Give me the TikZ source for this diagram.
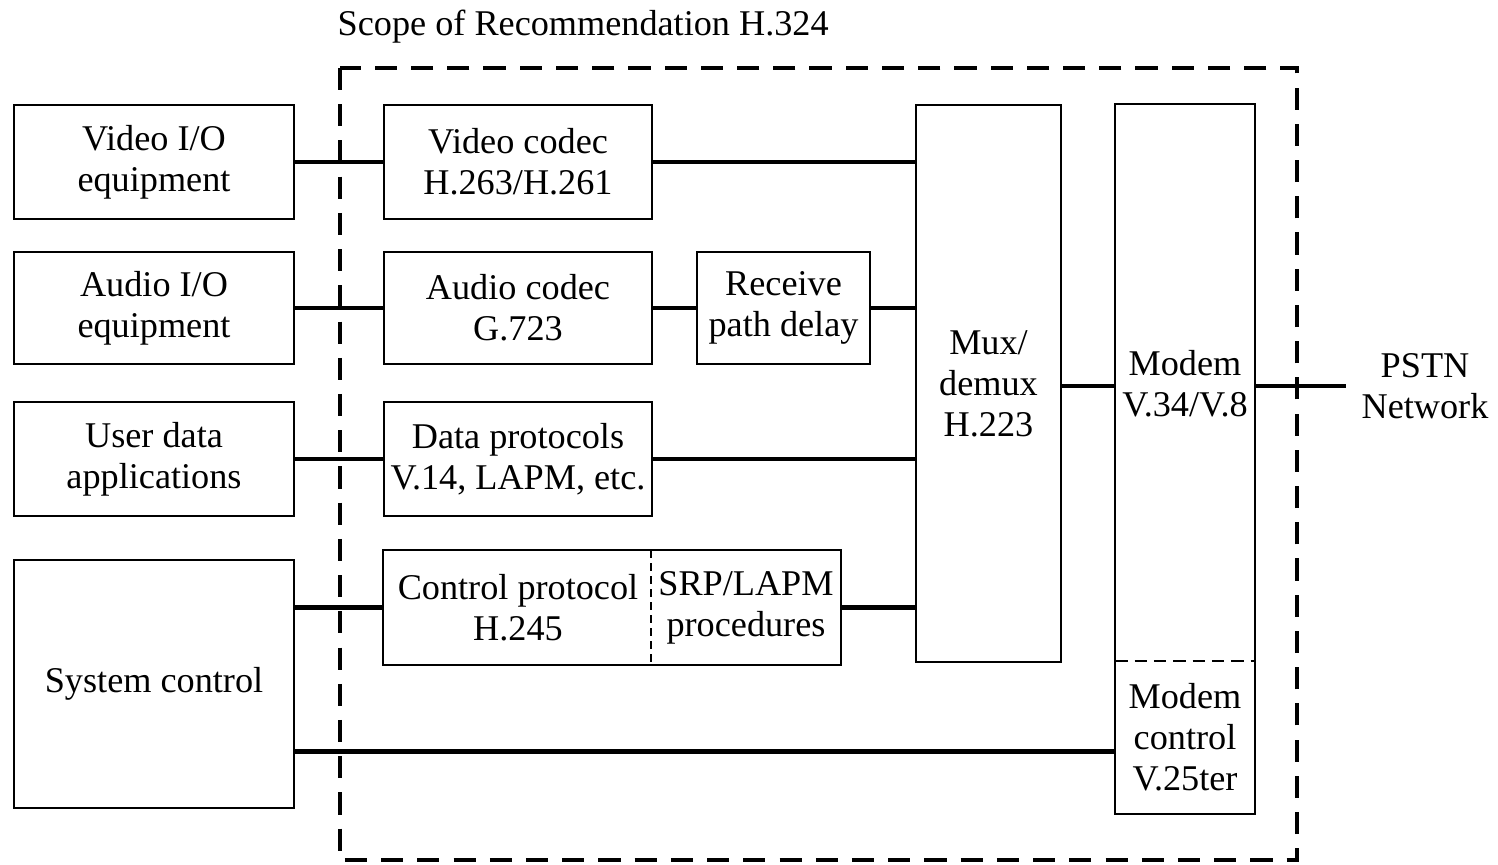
\documentclass[tikz,border=0pt]{standalone}
\usepackage{fontspec}
\setmainfont{Liberation Serif}
\usepackage{tikz}
\usetikzlibrary{arrows,calc,positioning}

\begin{document}
\begin{tikzpicture}[x=0.01cm,y=-0.01cm,
    box/.style={draw,line width=0.55pt,inner sep=0pt,align=center},
    plain/.style={inner sep=0pt,align=center},
    link/.style={line width=1.25pt},
    scopeline/.style={line width=0.9pt,dash pattern=on 6.3pt off 4pt},
    divider/.style={line width=0.5pt,dash pattern=on 2.3pt off 1.4pt}]
    \fontsize{10.3}{11.7}\selectfont

    \useasboundingbox (0,0) rectangle (1498,865);

    \draw[scopeline] (340,68) rectangle (1297,860); % scope
    \node[plain,anchor=west] (title) at (337,27) {Scope of Recommendation H.324};

	% terminal side
    \node[box,minimum width=2.8cm,minimum height=1.14cm] (vidio) at (154,162) {Video I/O\\equipment};
    \node[box,minimum width=2.8cm,minimum height=1.12cm] (audio) at (154,308) {Audio I/O\\equipment};
    \node[box,minimum width=2.8cm,minimum height=1.14cm] (usrdata) at (154,459) {User data\\applications};
    \node[box,minimum width=2.8cm,minimum height=2.48cm] (sysctl) at (154,684) {System control};

	% inside H.324
    \node[box,minimum width=2.68cm,minimum height=1.14cm] (vidcodec) at (518,162) {Video codec\\H.263/H.261};
    \node[box,minimum width=2.68cm,minimum height=1.12cm] (audcodec) at (518,308) {Audio codec\\G.723};
    \node[box,minimum width=2.68cm,minimum height=1.14cm] (datap) at (518,459) {Data protocols\\V.14, LAPM, etc.};
    \node[plain,minimum width=2.68cm,minimum height=1.13cm] (ctrlp) at (518,607.5) {Control protocol\\H.245};
    \node[plain,minimum width=1.88cm,minimum height=1.13cm] (srp) at (746,607.5) {SRP/LAPM\\procedures};
    \draw[line width=0.55pt] (ctrlp.north west) rectangle (srp.south east);
    \draw[divider] (srp.north west) -- (srp.south west);
    \node[box,minimum width=1.73cm,minimum height=1.12cm] (delay) at (783.5,308) {Receive\\path delay};
    \node[box,minimum width=1.45cm,minimum height=5.57cm] (mux) at (988.5,383.5) {Mux/\\demux\\H.223};
    \node[plain,minimum width=1.38cm,minimum height=5.57cm] (modem) at (1185,383.5) {Modem\\V.34/V.8};
    \node[plain,minimum width=1.38cm,minimum height=1.51cm] (modemctl) at (1185,737.5) {Modem\\control\\V.25ter};
    \draw[line width=0.55pt] (modem.north west) rectangle (modemctl.south east);
    \draw[divider,dash pattern=on 3.5pt off 2pt] (modemctl.north west) -- (modemctl.north east);

    \node[plain,inner xsep=0.15cm] (pstn) at (1425,386) {PSTN\\Network};

	% connections
    \draw[link] (vidio) -- (vidcodec);
    \draw[link] (vidcodec.east) -- (vidcodec.east -| mux.west);
    \draw[link] (audio) -- (audcodec);
    \draw[link] (audcodec) -- (delay);
    \draw[link] (delay.east) -- (delay.east -| mux.west);
    \draw[link] (usrdata) -- (datap);
    \draw[link] (datap.east) -- (datap.east -| mux.west);
    \draw[link] (sysctl.east |- ctrlp.west) -- (ctrlp.west);
    \draw[link] (srp.east) -- (srp.east -| mux.west);
    \draw[link] ([yshift=-0.14cm]modemctl.west -| sysctl.east) -- ([yshift=-0.14cm]modemctl.west);
    \draw[link] ([yshift=-0.025cm]mux.east) -- ([yshift=-0.025cm]mux.east -| modem.west);
    \draw[link] (pstn.west -| modem.east) -- (pstn.west);

  \end{tikzpicture}
\end{document}
